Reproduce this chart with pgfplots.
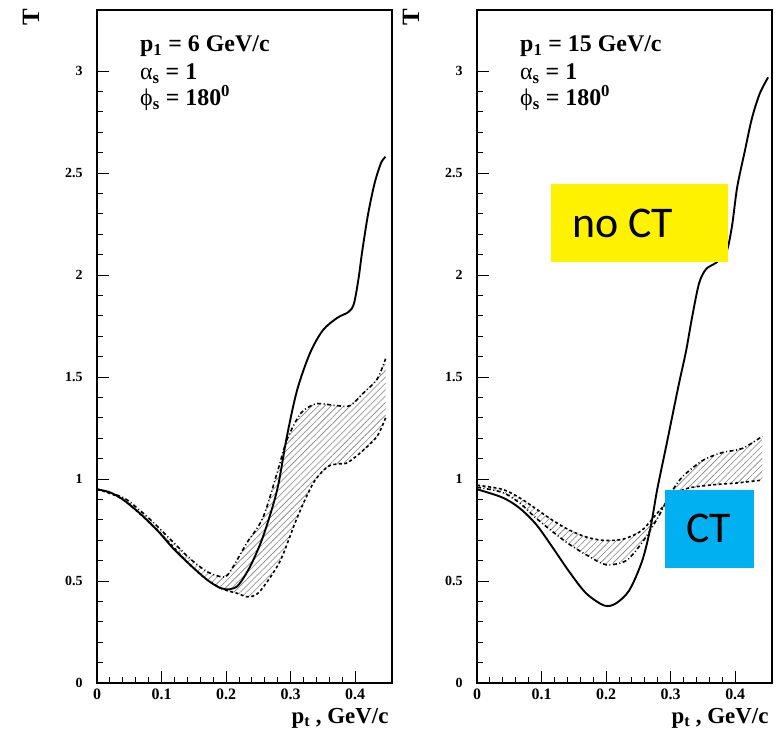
\documentclass[border=0pt]{standalone}
\usepackage{fontspec}
\setmainfont{Liberation Serif}
\newfontfamily\calibri{Carlito}
\usepackage{pgfplots}
\pgfplotsset{compat=1.18}
\usepgfplotslibrary{fillbetween}
\usetikzlibrary{patterns.meta}

\pgfplotsset{
  myaxis/.style={
    scale only axis, width=295bp, height=673bp,
    xmin=0, xmax=0.457, ymin=0, ymax=3.3,
    axis line style={line width=1.8bp},
    xtick={0,0.1,0.2,0.3,0.4}, ytick={0,0.5,1,1.5,2,2.5,3},
    minor x tick num=4, minor y tick num=4,
    xtick pos=left, ytick pos=left, tick align=inside,
    major tick length=12bp, minor tick length=6bp,
    tick style={line width=1bp, black},
    /pgf/number format/assume math mode=true,
    xticklabel style={font=\fontsize{16}{16}\selectfont\bfseries, yshift=-2bp},
    yticklabel style={font=\fontsize{14}{14}\selectfont\bfseries, xshift=-11bp},
    xlabel={p\textsubscript{t} , GeV/c},
    xlabel style={at={(rel axis cs:1,0)}, anchor=base east, yshift=-40bp, font=\fontsize{23}{23}\selectfont\bfseries},
    anchor=south west,
  },
  solidc/.style={black, line width=1.9bp, smooth, tension=0.5},
  ddot/.style={black, line width=1.6bp, smooth, tension=0.5, dash pattern=on 4bp off 2.5bp on 1bp off 2.5bp},
  dsh/.style={black, line width=1.6bp, smooth, tension=0.5, dash pattern=on 3bp off 2.5bp},
  hatch/.style={pattern={Lines[angle=45, distance=4.5bp, line width=0.6bp]}, pattern color=gray},
}

\pgfplotstableread{
x y
0 0.95
0.04 0.91
0.067 0.845
0.093 0.77
0.118 0.69
0.144 0.61
0.171 0.545
0.195 0.52
0.206 0.545
0.232 0.686
0.257 0.81
0.279 1.03
0.294 1.19
0.315 1.32
0.335 1.365
0.346 1.37
0.372 1.36
0.392 1.36
0.412 1.42
0.434 1.49
0.447 1.59
}\LU
\pgfplotstableread{
x y
0 0.95
0.04 0.90
0.093 0.75
0.144 0.58
0.171 0.505
0.195 0.46
0.217 0.44
0.232 0.423
0.245 0.43
0.258 0.472
0.284 0.60
0.310 0.81
0.335 0.98
0.357 1.06
0.375 1.075
0.388 1.08
0.412 1.14
0.434 1.21
0.447 1.30
}\LL
\pgfplotstableread{
x y
0 0.95
0.02 0.935
0.04 0.90
0.067 0.83
0.093 0.75
0.118 0.66
0.144 0.58
0.171 0.505
0.191 0.466
0.206 0.46
0.219 0.48
0.237 0.57
0.257 0.716
0.279 0.946
0.294 1.206
0.310 1.436
0.330 1.618
0.350 1.73
0.372 1.79
0.390 1.82
0.398 1.86
0.405 1.98
0.411 2.12
0.42 2.30
0.43 2.45
0.44 2.55
0.447 2.58
}\LS
\pgfplotstableread{
x y
0 0.96
0.039 0.935
0.065 0.885
0.091 0.81
0.116 0.745
0.143 0.68
0.174 0.62
0.20 0.58
0.231 0.60
0.256 0.69
0.28 0.81
0.30 0.93
0.318 1.01
0.349 1.09
0.38 1.13
0.411 1.15
0.442 1.21
}\RU
\pgfplotstableread{
x y
0 0.97
0.039 0.95
0.065 0.91
0.091 0.855
0.116 0.80
0.143 0.75
0.17 0.715
0.194 0.70
0.215 0.70
0.231 0.71
0.256 0.75
0.287 0.86
0.318 0.946
0.36 0.97
0.40 0.98
0.442 0.995
}\RL
\pgfplotstableread{
x y
0 0.95
0.039 0.91
0.065 0.86
0.091 0.78
0.116 0.67
0.143 0.545
0.169 0.44
0.197 0.38
0.215 0.39
0.236 0.455
0.256 0.60
0.269 0.765
0.279 0.946
0.293 1.16
0.302 1.30
0.313 1.47
0.324 1.63
0.333 1.79
0.344 1.96
0.355 2.03
0.37 2.06
0.386 2.11
0.395 2.24
0.403 2.43
0.415 2.61
0.426 2.77
0.438 2.89
0.451 2.97
}\RS

\begin{document}
\begin{tikzpicture}
\path (0,0) rectangle (776bp,737bp);

% ---------------- left panel ----------------
\begin{axis}[myaxis, at={(97bp,54bp)}]
\addplot[draw=none, name path=LU] table {\LU};
\addplot[draw=none, name path=LL] table {\LL};
\addplot[hatch] fill between[of=LU and LL];
\addplot[ddot] table {\LU};
\addplot[dsh] table {\LL};
\addplot[solidc] table {\LS};
\end{axis}

% ---------------- right panel ----------------
\begin{axis}[myaxis, at={(477bp,54bp)}]
\addplot[draw=none, name path=RU] table {\RU};
\addplot[draw=none, name path=RL] table {\RL};
\addplot[hatch] fill between[of=RU and RL];
\addplot[ddot] table {\RU};
\addplot[dsh] table {\RL};
\addplot[solidc] table {\RS};
\end{axis}

% axis titles
\node[rotate=90, font=\fontsize{25}{25}\selectfont\bfseries] at (31bp,720bp) {T};
\node[rotate=90, font=\fontsize{25}{25}\selectfont\bfseries] at (411bp,720bp) {T};

% annotations
\begin{scope}[every node/.style={anchor=base west, inner sep=0pt, font=\fontsize{24}{24}\selectfont\bfseries}]
\node at (140bp,685bp) {p\textsubscript{1} = 6 GeV/c};
\node at (140bp,657bp) {{\mdseries α}\textsubscript{s} = 1};
\node at (140bp,631bp) {{\mdseries ϕ}\textsubscript{s} = 180\textsuperscript{0}};
\node at (520bp,685bp) {p\textsubscript{1} = 15 GeV/c};
\node at (520bp,657bp) {{\mdseries α}\textsubscript{s} = 1};
\node at (520bp,631bp) {{\mdseries ϕ}\textsubscript{s} = 180\textsuperscript{0}};
\end{scope}

% coloured labels
\fill[yellow] (551bp,475bp) rectangle (728bp,553bp);
\node[anchor=base west, inner sep=0pt, font=\calibri\fontsize{44}{44}\selectfont] at (572bp,499bp) {no CT};
\fill[fill={rgb,255:red,0;green,176;blue,240}] (665bp,169bp) rectangle (754bp,247bp);
\node[anchor=base west, inner sep=0pt, font=\calibri\fontsize{44}{44}\selectfont] at (686bp,194bp) {CT};
\end{tikzpicture}
\end{document}
